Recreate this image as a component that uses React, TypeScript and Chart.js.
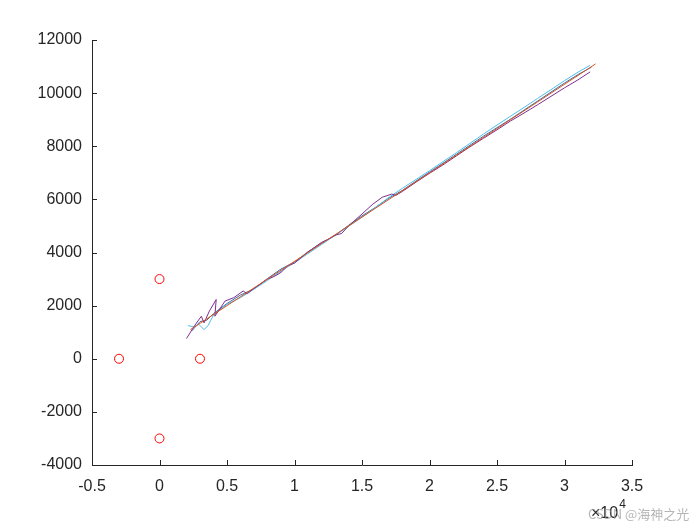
import React, { useEffect, useRef } from "react";
import { Chart, registerables } from "chart.js";

Chart.register(...registerables);

// Stations (red circles)
const stationX = [-3000, 0, 3000, 0];
const stationY = [0, 3000, 0, -3000];

// Blue track
const blueX = [2400, 3000, 3500, 4000, 5000, 6000, 7000, 8000, 9000, 10000, 11000, 12000, 13000, 14000, 15000, 16000, 17000, 18000, 19000, 20000, 21000, 22000, 23000, 24000, 25000, 26000, 27000, 28000, 29000, 30000, 31000, 32000];
const blueY = [1050, 1400, 1450, 1700, 2080, 2400, 2630, 3020, 3380, 3640, 4030, 4360, 4640, 5020, 5380, 5700, 6050, 6340, 6690, 7030, 7360, 7700, 8040, 8380, 8700, 9020, 9360, 9700, 10040, 10380, 10700, 10980];

// Orange (true) track
const orangeX = [2300, 32300];
const orangeY = [1100, 11100];

// Cyan track
const cyanX = [2100, 2500, 2900, 3300, 3600, 4000, 5000, 6000, 7000, 8000, 9000, 10000, 11000, 12000, 13000, 14000, 15000, 16000, 17000, 18000, 19000, 20000, 21000, 22000, 23000, 24000, 25000, 26000, 27000, 28000, 29000, 30000, 31000, 31900];
const cyanY = [1250, 1200, 1300, 1100, 1250, 1650, 2050, 2300, 2620, 2950, 3300, 3620, 3960, 4300, 4640, 4980, 5330, 5700, 6080, 6420, 6750, 7080, 7420, 7760, 8110, 8460, 8800, 9130, 9460, 9800, 10130, 10470, 10790, 11050];

// Purple track
const purpleX = [2000, 2600, 3100, 3300, 3700, 4200, 4100, 4850, 5500, 6200, 6500, 7000, 8000, 8500, 9000, 9500, 10000, 11000, 12000, 12500, 13000, 13500, 14000, 15000, 15800, 16500, 17200, 17500, 18000, 19000, 20000, 21000, 22000, 23000, 24000, 25000, 26000, 27000, 28000, 29000, 30000, 31000, 31900];
const purpleY = [760, 1250, 1600, 1350, 1800, 2230, 1600, 2170, 2300, 2550, 2450, 2650, 3000, 3100, 3250, 3500, 3600, 4020, 4380, 4500, 4650, 4720, 5000, 5450, 5820, 6080, 6200, 6150, 6300, 6650, 6980, 7300, 7640, 7980, 8300, 8620, 8950, 9250, 9560, 9880, 10200, 10500, 10800];

const xTickValues = [-5000, 0, 5000, 10000, 15000, 20000, 25000, 30000, 35000];
const yTickValues = [-4000, -2000, 0, 2000, 4000, 6000, 8000, 10000, 12000];
const xExponentLabel = "×10";
const xExponent = "4";
const watermark = "CSDN @海神之光";

const pts = (xs: number[], ys: number[]) => xs.map((x, i) => ({ x, y: ys[i] }));

const FONT = "'Liberation Sans', Arial, sans-serif";
const TEXT = "#262626";

const inwardTicks = {
  id: "inwardTicks",
  afterDraw(chart: any) {
    const ctx = chart.ctx;
    const { x, y } = chart.scales;
    const area = chart.chartArea;
    ctx.save();
    ctx.strokeStyle = TEXT;
    ctx.lineWidth = 1;
    ctx.beginPath();
    xTickValues.forEach((v) => {
      const px = Math.round(x.getPixelForValue(v)) + 0.5;
      ctx.moveTo(px, area.bottom);
      ctx.lineTo(px, area.bottom - 5);
    });
    yTickValues.forEach((v) => {
      const py = Math.round(y.getPixelForValue(v)) + 0.5;
      ctx.moveTo(area.left, py);
      ctx.lineTo(area.left + 5, py);
    });
    ctx.stroke();
    // exponent label
    ctx.fillStyle = TEXT;
    ctx.font = `16px ${FONT}`;
    ctx.textBaseline = "alphabetic";
    ctx.textAlign = "left";
    const ex = area.right - 41;
    const ey = area.bottom + 53;
    ctx.fillText(xExponentLabel, ex, ey);
    const w = ctx.measureText(xExponentLabel).width;
    ctx.font = `12px ${FONT}`;
    ctx.fillText(xExponent, ex + w + 1, ey - 10);
    // watermark
    ctx.fillStyle = "rgba(150,150,150,0.7)";
    ctx.font = `13px 'Noto Sans CJK SC', sans-serif`;
    ctx.fillText(watermark, area.right - 44, ey + 1);
    ctx.restore();
  },
};

export default function App() {
  const ref = useRef<HTMLCanvasElement | null>(null);
  useEffect(() => {
    if (!ref.current) return;
    const line = (data: any, color: string) => ({
      data,
      showLine: true,
      borderColor: color,
      backgroundColor: color,
      borderWidth: 1,
      pointRadius: 0,
      fill: false,
    });
    const chart = new Chart(ref.current, {
      type: "scatter",
      data: {
        datasets: [
          {
            data: pts(stationX, stationY),
            showLine: false,
            pointStyle: "circle",
            pointRadius: 4.5,
            borderColor: "#ff0000",
            backgroundColor: "rgba(0,0,0,0)",
            borderWidth: 1,
          } as any,
          line(pts(orangeX, orangeY), "#d95319"),
          line(pts(purpleX, purpleY), "#7e2f8e"),
          line(pts(cyanX, cyanY), "#4dbeee"),
          line(pts(blueX, blueY), "#3f6fa8"),
        ],
      },
      options: {
        animation: false,
        responsive: false,
        devicePixelRatio: 1,
        layout: { padding: { left: 0, top: 40, right: 68, bottom: 0 } },
        plugins: { legend: { display: false }, tooltip: { enabled: false } },
        scales: {
          x: {
            type: "linear",
            min: -5000,
            max: 35000,
            afterFit: (s: any) => { s.height = 60; },
            afterBuildTicks: (s: any) => { s.ticks = xTickValues.map((v) => ({ value: v })); },
            grid: { display: false, drawTicks: false },
            border: { display: true, color: TEXT, width: 1 },
            ticks: {
              padding: 12,
              color: TEXT,
              font: { family: FONT, size: 16 },
              maxRotation: 0,
              callback: (v: any) => String(Number(v) / 10000),
            },
          },
          y: {
            type: "linear",
            min: -4000,
            max: 12000,
            afterFit: (s: any) => { s.width = 92; },
            afterBuildTicks: (s: any) => { s.ticks = yTickValues.map((v) => ({ value: v })); },
            grid: { display: false, drawTicks: false },
            border: { display: true, color: TEXT, width: 1 },
            ticks: {
              padding: 10,
              color: TEXT,
              font: { family: FONT, size: 16 },
              callback: (v: any) => String(v),
            },
          },
        },
      },
      plugins: [inwardTicks],
    } as any);
    return () => chart.destroy();
  }, []);
  return (
    <div style={{ position: "absolute", left: 0, top: 0, width: 700, height: 525, background: "#fff" }}>
      <canvas ref={ref} width={700} height={525} />
    </div>
  );
}
